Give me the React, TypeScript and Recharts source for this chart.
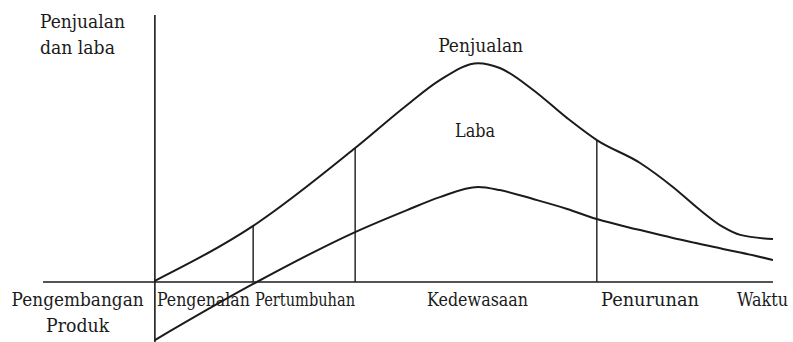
import React from 'react';
import { ComposedChart, Line, XAxis, YAxis, ReferenceLine, ReferenceDot } from 'recharts';

// Time axis (0 = product launch, 100 = end of Waktu axis)
const time = [0, 15.9, 32.4, 40.8, 46.1, 52.3, 55.8, 61.2, 66.7, 71.5, 78.5, 83.8, 88.2, 91.9, 94.7, 100];
// Sales (Penjualan), peak = 100
const sales = [0.5, 25.5, 60.9, 80.5, 91.8, 99.5, 97.3, 87.3, 74.5, 64.5, 54.1, 43.2, 32.7, 25.0, 21.4, 19.5];
// Profit (Laba)
const profit = [-26.4, -0.9, 22.7, 32.7, 38.6, 43.2, 41.8, 37.7, 33.2, 28.6, 23.6, 20.0, 17.3, 15.0, 13.4, 10];
// Stage boundaries on the time axis
const stageEnds = [15.9, 32.4, 71.5];
// Texts
const yTitle = ['Penjualan', 'dan laba'];
const xTitle = 'Waktu';
const seriesNames = ['Penjualan', 'Laba'];
const stageNames = [['Pengembangan', 'Produk'], ['Pengenalan'], ['Pertumbuhan'], ['Kedewasaan'], ['Penurunan']];

const data = time.map((t, i) => ({ t, sales: sales[i], profit: profit[i] }));

const INK = '#1b1b1b';
const FONT = 'DejaVu Serif';
const FS = 18;

// layout: data-space anchor positions and rendered widths (px) per line
type Lbl = { lines: string[]; widths: number[]; x: number; y: number; anchor: 'start' | 'middle' | 'end' };
const labels: Lbl[] = [
  { lines: yTitle, widths: [85, 75], x: -18.6, y: 115.5, anchor: 'start' },
  { lines: [seriesNames[0]], widths: [85], x: 52.7, y: 104.5, anchor: 'middle' },
  { lines: [seriesNames[1]], widths: [40], x: 51.8, y: 65.9, anchor: 'middle' },
  { lines: stageNames[0], widths: [132, 63], x: -12.5, y: -10.9, anchor: 'middle' },
  { lines: stageNames[1], widths: [93], x: 7.85, y: -10.9, anchor: 'middle' },
  { lines: stageNames[2], widths: [100], x: 24.3, y: -10.9, anchor: 'middle' },
  { lines: stageNames[3], widths: [101], x: 52.2, y: -10.9, anchor: 'middle' },
  { lines: stageNames[4], widths: [98], x: 80.1, y: -10.9, anchor: 'middle' },
  { lines: [xTitle], widths: [51], x: 98.3, y: -10.9, anchor: 'middle' },
];

function renderLabel(l: Lbl, i: number) {
  return (
    <ReferenceDot
      key={'lbl' + i}
      x={l.x}
      y={l.y}
      r={0}
      ifOverflow="visible"
      shape={(p: any) => (
        <g>
          {l.lines.map((s, j) => (
            <text
              key={j}
              x={p.cx}
              y={p.cy + j * 26}
              textAnchor={l.anchor}
              textLength={l.widths[j]}
              lengthAdjust="spacingAndGlyphs"
              style={{ fontFamily: FONT, fontSize: FS, fill: INK }}
            >
              {s}
            </text>
          ))}
        </g>
      )}
    />
  );
}

export default function App() {
  return (
    <div style={{ position: 'absolute', left: 0, top: 0, width: 793, height: 342, background: '#fff' }}>
      <ComposedChart
        width={793}
        height={342}
        data={data}
        margin={{ top: 15, right: 20, bottom: 0, left: 43 }}
      >
        <XAxis dataKey="t" type="number" domain={[-18.1, 100]} hide allowDataOverflow />
        <YAxis type="number" domain={[-27.3, 121.4]} hide allowDataOverflow />
        <ReferenceLine y={0} stroke={INK} strokeWidth={1.6} ifOverflow="visible" />
        <ReferenceLine x={0} stroke={INK} strokeWidth={1.6} ifOverflow="visible" />
        {stageEnds.map((s) => {
          const idx = time.indexOf(s);
          return (
            <ReferenceLine
              key={'st' + s}
              segment={[{ x: s, y: 0 }, { x: s, y: sales[idx] }]}
              stroke={INK}
              strokeWidth={1.4}
              ifOverflow="visible"
            />
          );
        })}
        <Line
          type="monotone"
          dataKey="sales"
          stroke={INK}
          strokeWidth={2}
          dot={false}
          isAnimationActive={false}
        />
        <Line
          type="monotone"
          dataKey="profit"
          stroke={INK}
          strokeWidth={2}
          dot={false}
          isAnimationActive={false}
        />
        {labels.map(renderLabel)}
      </ComposedChart>
    </div>
  );
}
